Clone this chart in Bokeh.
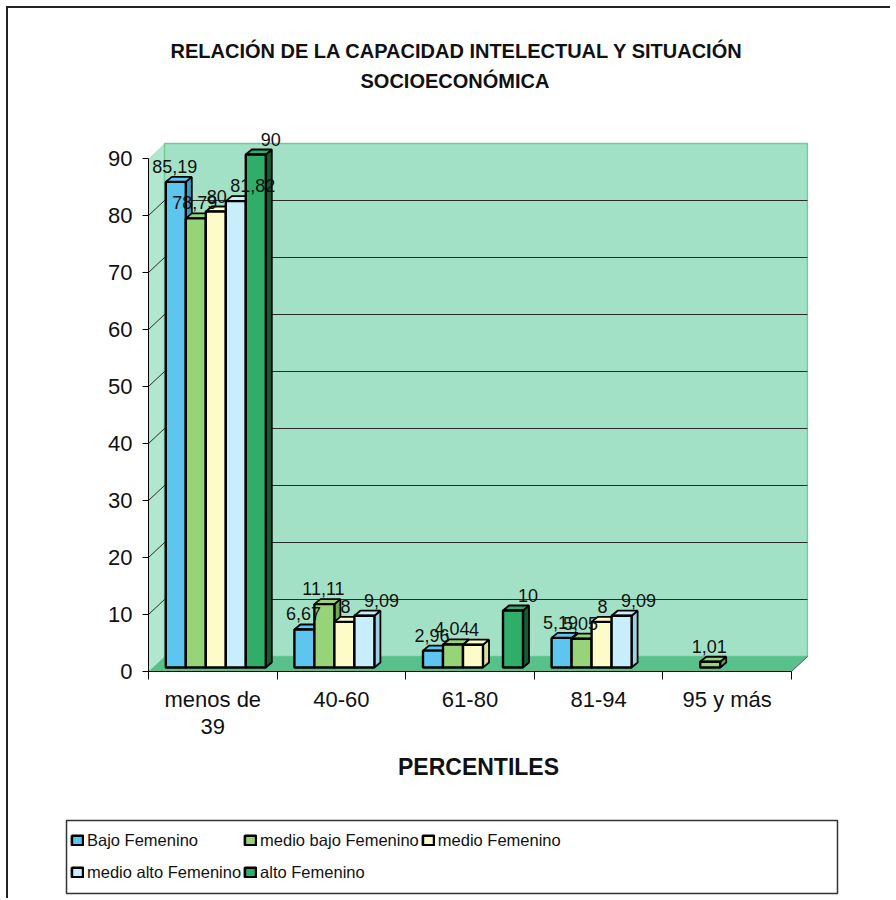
from bokeh.plotting import figure
from bokeh.models import FixedTicker, Legend, LegendItem, ColumnDataSource, Range1d, Title
from bokeh.layouts import column
from bokeh.embed import file_html
from bokeh.resources import INLINE
from bokeh.core.properties import value

# ---------------- data ----------------
categories = ["menos de\n39", "40-60", "61-80", "81-94", "95 y más"]
series_names = ["Bajo Femenino", "medio bajo Femenino", "medio Femenino",
                "medio alto Femenino", "alto Femenino"]
bajo = [85.19, 6.67, 2.96, 5.19, 0]
medio_bajo = [78.79, 11.11, 4.04, 5.05, 1.01]
medio = [80, 8, 4, 8, 0]
medio_alto = [81.82, 9.09, 0, 9.09, 0]
alto = [90, 0, 10, 0, 0]
y_ticks = [0, 10, 20, 30, 40, 50, 60, 70, 80, 90]
series = [bajo, medio_bajo, medio, medio_alto, alto]
title_lines = ["RELACIÓN DE LA CAPACIDAD INTELECTUAL Y SITUACIÓN", "SOCIOECONÓMICA"]
x_title = "PERCENTILES"

# ---------------- style ----------------
FONT = value("Liberation Sans")
colors = ["#5ec5ef", "#97d479", "#fdfcc9", "#c8eefb", "#2fad69"]
side_colors = ["#3a9cc4", "#6aa952", "#dedca0", "#9fd0e2", "#145a33"]
label_dx = [-4, -4, -2, 14, 12]

PXX = 128.6   # px per x unit
PXY = 5.7     # px per y unit
DX, DY = 16 / PXX, 15 / PXY          # wall depth
BW = 20 / PXX                        # bar width
BDX, BDY = 6 / PXX, 5 / PXY          # bar depth
BASE_X, BASE_Y = 3 / PXX, 4 / PXY    # bar placement inside depth

n = len(categories)
p = figure(width=890, height=800, output_backend="svg", toolbar_location=None,
           x_range=Range1d(0, 660 / PXX), y_range=Range1d(0, 100),
           min_border_left=148, min_border_right=82, min_border_top=101,
           min_border_bottom=129, title=title_lines[0])
p.frame_align = False
p.background_fill_color = "white"
p.border_fill_alpha = 0
p.outline_line_color = None
p.grid.visible = False

p.title.align = "left"
p.title.offset = 22
p.title.text_font = "Liberation Sans"
p.title.text_font_size = "20px"
p.title.text_font_style = "bold"
p.title.text_color = "#111"
p.title.standoff = -6
p.add_layout(Title(text=title_lines[1], align="left", offset=212,
                   text_font="Liberation Sans", text_font_size="20px",
                   text_font_style="bold", text_color="#111", standoff=19), "above")

# walls and floor
p.patch([0, DX, DX, 0], [0, DY, y_ticks[-1] + DY, y_ticks[-1]],
        fill_color="#b2e7cf", line_color=None)
p.quad(left=[DX], right=[n + DX], bottom=[DY], top=[y_ticks[-1] + DY],
       fill_color="#a3e1c7", line_color="#6fcb98", line_width=1.5)
p.patch([0, n, n + DX, DX], [0, 0, DY, DY], fill_color="#58c08b",
        line_color=None)
p.line([n, n + DX], [0, DY], line_color="#555", line_width=1)

gx, gy = [], []
for v in y_ticks[1:-1]:
    gx.append([0, DX, n + DX])
    gy.append([v, v + DY, v + DY])
p.multi_line(gx, gy, line_color="#2a2a2a", line_width=1)

# bars
label_sources = []
for j, vals in enumerate(series):
    fx_l, fx_r, fb, ft = [], [], [], []
    sxs, sys_, txs, tys = [], [], [], []
    lx, ly, lt = [], [], []
    for i, v in enumerate(vals):
        if v <= 0:
            continue
        xc = i + 0.5 + (j - 2) * BW + BASE_X
        l, r = xc - BW / 2, xc + BW / 2
        b, t = BASE_Y, BASE_Y + v
        fx_l.append(l); fx_r.append(r); fb.append(b); ft.append(t)
        sxs.append([r, r + BDX, r + BDX, r]); sys_.append([b, b + BDY, t + BDY, t])
        txs.append([l, r, r + BDX, l + BDX]); tys.append([t, t, t + BDY, t + BDY])
        lx.append(xc + BDX / 2); ly.append(t + BDY)
        lt.append(("%g" % v).replace(".", ","))
    p.patches(sxs, sys_, fill_color=side_colors[j], line_color="black", line_width=1.8)
    p.patches(txs, tys, fill_color=colors[j], line_color="black", line_width=1.8)
    p.quad(left=fx_l, right=fx_r, bottom=fb, top=ft, fill_color=colors[j],
           line_color="black", line_width=2.4)
    label_sources.append(ColumnDataSource(dict(x=lx, y=ly, t=lt)))

# data labels on top of all bars
for j, src in enumerate(label_sources):
    p.text(x="x", y="y", text="t", source=src, text_font=FONT,
           text_font_size="18px", text_align="center", text_baseline="bottom",
           x_offset=label_dx[j], y_offset=-4, text_color="#111")

# axes
xa = p.xaxis[0]
xa.ticker = FixedTicker(ticks=[i + 0.5 for i in range(n)],
                        minor_ticks=list(range(n + 1)))
xa.major_label_overrides = {i + 0.5: c for i, c in enumerate(categories)}
xa.bounds = (0, n)
xa.major_tick_out = 0
xa.major_tick_in = 0
xa.minor_tick_out = 8
xa.minor_tick_in = 0
xa.minor_tick_line_color = "black"
xa.axis_line_color = "black"
xa.major_label_text_font = "Liberation Sans"
xa.major_label_text_font_size = "22px"
xa.major_label_text_color = "#111"
xa.major_label_text_line_height = 1.1
xa.major_label_standoff = 7
xa.axis_label = x_title
xa.axis_label_text_font = "Liberation Sans"
xa.axis_label_text_font_size = "23px"
xa.axis_label_text_font_style = "bold"
xa.axis_label_text_color = "#111"
xa.axis_label_standoff = 12

ya = p.yaxis[0]
ya.ticker = FixedTicker(ticks=y_ticks)
ya.bounds = (0, y_ticks[-1])
ya.major_tick_out = 6
ya.major_tick_in = 0
ya.minor_tick_out = 0
ya.minor_tick_in = 0
ya.axis_line_color = "black"
ya.major_tick_line_color = "black"
ya.major_label_text_font = "Liberation Sans"
ya.major_label_text_font_size = "22px"
ya.major_label_text_color = "#111"
ya.major_label_standoff = 10

# legend box as a second small figure
p2 = figure(width=890, height=98, output_backend="svg", toolbar_location=None,
            x_range=Range1d(0, 1), y_range=Range1d(0, 1),
            min_border_left=66, min_border_right=53, min_border_top=20,
            min_border_bottom=5)
p2.frame_align = False
p2.axis.visible = False
p2.grid.visible = False
p2.outline_line_color = "#333"
p2.outline_line_width = 1.5
p2.border_fill_alpha = 0
p2.background_fill_color = "white"
nan = float("nan")
items = []
for j, name in enumerate(series_names):
    r = p2.quad(left=[nan], right=[nan], bottom=[nan], top=[nan], fill_color=colors[j],
                line_color="black", line_width=2.6)
    items.append(LegendItem(label=name, renderers=[r]))
legend = Legend(items=items, location=(4, 6), orientation="horizontal",
                ncols=3, margin=0, padding=8, spacing=2,
                glyph_width=14, glyph_height=12, label_standoff=3, label_height=30,
                label_text_font="Liberation Sans", label_text_font_size="16.5px",
                label_text_color="#111", border_line_color=None,
                background_fill_alpha=0)
p2.add_layout(legend)

layout = column(p, p2, spacing=0, styles={
    "background": "linear-gradient(#222,#222) 6px 6px / 2px 100% no-repeat, "
                  "linear-gradient(#222,#222) 6px 6px / 100% 2px no-repeat, white"
})
open("out.html", "w").write(file_html(layout, INLINE))
